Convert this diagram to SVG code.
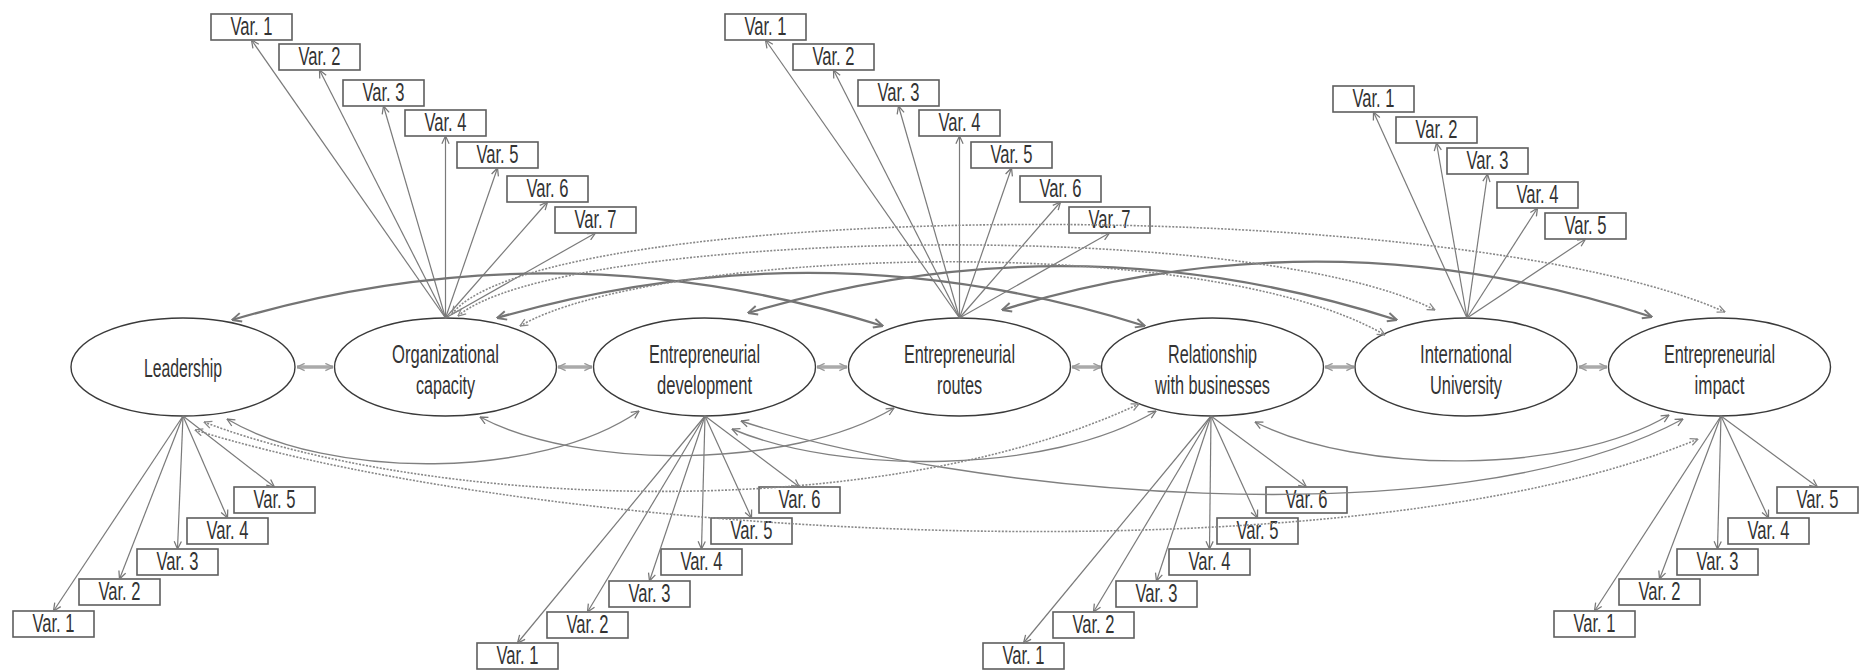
<svg xmlns="http://www.w3.org/2000/svg" width="1863" height="671" viewBox="0 0 1863 671">
<defs>
<style>
.bg{fill:#fff}
.n ellipse{fill:#fff;stroke:#3a3a3a;stroke-width:1.4}
.t{font-family:"Liberation Sans",Arial,sans-serif;font-size:26px;fill:#333;text-anchor:middle}
.vt{font-family:"Liberation Sans",Arial,sans-serif;font-size:25px;fill:#333;text-anchor:middle}
.v rect{fill:#fff;stroke:#5e5e5e;stroke-width:1.6}
.va{stroke:#7a7a7a;stroke-width:1.2;fill:none;marker-end:url(#ah)}
.adj{stroke:#aaa;stroke-width:3.5;fill:none;marker-start:url(#aa);marker-end:url(#aa)}
.sc{stroke:#747474;stroke-width:2.3;fill:none;marker-start:url(#ac);marker-end:url(#ac)}
.bc{stroke:#808080;stroke-width:1.4;fill:none;marker-start:url(#ah);marker-end:url(#ah)}
.dc{stroke:#888;stroke-width:1.6;fill:none;stroke-dasharray:2 1.5;marker-start:url(#ad);marker-end:url(#ad)}
</style>
<marker id="ah" viewBox="0 0 10 10" refX="9.5" refY="5" markerWidth="9" markerHeight="9" markerUnits="userSpaceOnUse" orient="auto-start-reverse"><path d="M1,1 L9.5,5 L1,9" fill="none" stroke="#777" stroke-width="1.4"/></marker>
<marker id="ac" viewBox="0 0 10 10" refX="9.5" refY="5" markerWidth="11" markerHeight="11" markerUnits="userSpaceOnUse" orient="auto-start-reverse"><path d="M1,1 L9.5,5 L1,9" fill="none" stroke="#777" stroke-width="1.8"/></marker>
<marker id="aa" viewBox="0 0 10 10" refX="9.5" refY="5" markerWidth="9" markerHeight="9" markerUnits="userSpaceOnUse" orient="auto-start-reverse"><path d="M1,1 L9.5,5 L1,9" fill="none" stroke="#999" stroke-width="1.5"/></marker>
<marker id="ad" viewBox="0 0 10 10" refX="9.5" refY="5" markerWidth="9" markerHeight="9" markerUnits="userSpaceOnUse" orient="auto-start-reverse"><path d="M1,1 L9.5,5 L1,9" fill="none" stroke="#888" stroke-width="1.4"/></marker>
</defs>
<rect class="bg" x="0" y="0" width="1863" height="671"/>

<g id="nodes">
<g id="n-leadership" class="n"><ellipse cx="183" cy="367" rx="112" ry="49"/><text class="t" x="183" y="377" textLength="78" lengthAdjust="spacingAndGlyphs">Leadership</text></g>
<g id="n-orgcap" class="n"><ellipse cx="445.5" cy="367" rx="111" ry="49"/><text class="t" x="445.5" y="363" textLength="107" lengthAdjust="spacingAndGlyphs">Organizational</text><text class="t" x="445.5" y="394" textLength="59" lengthAdjust="spacingAndGlyphs">capacity</text></g>
<g id="n-entdev" class="n"><ellipse cx="704.5" cy="367" rx="111" ry="49"/><text class="t" x="704.5" y="363" textLength="111" lengthAdjust="spacingAndGlyphs">Entrepreneurial</text><text class="t" x="704.5" y="394" textLength="95" lengthAdjust="spacingAndGlyphs">development</text></g>
<g id="n-routes" class="n"><ellipse cx="959.5" cy="367" rx="111" ry="49"/><text class="t" x="959.5" y="363" textLength="111" lengthAdjust="spacingAndGlyphs">Entrepreneurial</text><text class="t" x="959.5" y="394" textLength="45" lengthAdjust="spacingAndGlyphs">routes</text></g>
<g id="n-business" class="n"><ellipse cx="1212.5" cy="367" rx="111" ry="49"/><text class="t" x="1212.5" y="363" textLength="89" lengthAdjust="spacingAndGlyphs">Relationship</text><text class="t" x="1212.5" y="394" textLength="115" lengthAdjust="spacingAndGlyphs">with businesses</text></g>
<g id="n-intuniv" class="n"><ellipse cx="1466" cy="367" rx="111" ry="49"/><text class="t" x="1466" y="363" textLength="92" lengthAdjust="spacingAndGlyphs">International</text><text class="t" x="1466" y="394" textLength="72" lengthAdjust="spacingAndGlyphs">University</text></g>
<g id="n-impact" class="n"><ellipse cx="1719.5" cy="367" rx="111" ry="49"/><text class="t" x="1719.5" y="363" textLength="111" lengthAdjust="spacingAndGlyphs">Entrepreneurial</text><text class="t" x="1719.5" y="394" textLength="50" lengthAdjust="spacingAndGlyphs">impact</text></g>
</g>

<g id="vars">
<g id="oc-v1" class="v"><rect x="211" y="14" width="81" height="26"/><text class="vt" x="251.5" y="35" textLength="42" lengthAdjust="spacingAndGlyphs">Var. 1</text></g>
<g id="oc-v2" class="v"><rect x="279" y="44" width="81" height="26"/><text class="vt" x="319.5" y="65" textLength="42" lengthAdjust="spacingAndGlyphs">Var. 2</text></g>
<g id="oc-v3" class="v"><rect x="343" y="80" width="81" height="26"/><text class="vt" x="383.5" y="101" textLength="42" lengthAdjust="spacingAndGlyphs">Var. 3</text></g>
<g id="oc-v4" class="v"><rect x="405" y="110" width="81" height="26"/><text class="vt" x="445.5" y="131" textLength="42" lengthAdjust="spacingAndGlyphs">Var. 4</text></g>
<g id="oc-v5" class="v"><rect x="457" y="142" width="81" height="26"/><text class="vt" x="497.5" y="163" textLength="42" lengthAdjust="spacingAndGlyphs">Var. 5</text></g>
<g id="oc-v6" class="v"><rect x="507" y="176" width="81" height="26"/><text class="vt" x="547.5" y="197" textLength="42" lengthAdjust="spacingAndGlyphs">Var. 6</text></g>
<g id="oc-v7" class="v"><rect x="555" y="207" width="81" height="26"/><text class="vt" x="595.5" y="228" textLength="42" lengthAdjust="spacingAndGlyphs">Var. 7</text></g>
<g id="er-v1" class="v"><rect x="725" y="14" width="81" height="26"/><text class="vt" x="765.5" y="35" textLength="42" lengthAdjust="spacingAndGlyphs">Var. 1</text></g>
<g id="er-v2" class="v"><rect x="793" y="44" width="81" height="26"/><text class="vt" x="833.5" y="65" textLength="42" lengthAdjust="spacingAndGlyphs">Var. 2</text></g>
<g id="er-v3" class="v"><rect x="858" y="80" width="81" height="26"/><text class="vt" x="898.5" y="101" textLength="42" lengthAdjust="spacingAndGlyphs">Var. 3</text></g>
<g id="er-v4" class="v"><rect x="919" y="110" width="81" height="26"/><text class="vt" x="959.5" y="131" textLength="42" lengthAdjust="spacingAndGlyphs">Var. 4</text></g>
<g id="er-v5" class="v"><rect x="971" y="142" width="81" height="26"/><text class="vt" x="1011.5" y="163" textLength="42" lengthAdjust="spacingAndGlyphs">Var. 5</text></g>
<g id="er-v6" class="v"><rect x="1020" y="176" width="81" height="26"/><text class="vt" x="1060.5" y="197" textLength="42" lengthAdjust="spacingAndGlyphs">Var. 6</text></g>
<g id="er-v7" class="v"><rect x="1069" y="207" width="81" height="26"/><text class="vt" x="1109.5" y="228" textLength="42" lengthAdjust="spacingAndGlyphs">Var. 7</text></g>
<g id="iu-v1" class="v"><rect x="1333" y="86" width="81" height="26"/><text class="vt" x="1373.5" y="107" textLength="42" lengthAdjust="spacingAndGlyphs">Var. 1</text></g>
<g id="iu-v2" class="v"><rect x="1396" y="117" width="81" height="26"/><text class="vt" x="1436.5" y="138" textLength="42" lengthAdjust="spacingAndGlyphs">Var. 2</text></g>
<g id="iu-v3" class="v"><rect x="1447" y="148" width="81" height="26"/><text class="vt" x="1487.5" y="169" textLength="42" lengthAdjust="spacingAndGlyphs">Var. 3</text></g>
<g id="iu-v4" class="v"><rect x="1497" y="182" width="81" height="26"/><text class="vt" x="1537.5" y="203" textLength="42" lengthAdjust="spacingAndGlyphs">Var. 4</text></g>
<g id="iu-v5" class="v"><rect x="1545" y="213" width="81" height="26"/><text class="vt" x="1585.5" y="234" textLength="42" lengthAdjust="spacingAndGlyphs">Var. 5</text></g>
<g id="ld-v1" class="v"><rect x="13" y="611" width="81" height="26"/><text class="vt" x="53.5" y="632" textLength="42" lengthAdjust="spacingAndGlyphs">Var. 1</text></g>
<g id="ld-v2" class="v"><rect x="79" y="579" width="81" height="26"/><text class="vt" x="119.5" y="600" textLength="42" lengthAdjust="spacingAndGlyphs">Var. 2</text></g>
<g id="ld-v3" class="v"><rect x="137" y="549" width="81" height="26"/><text class="vt" x="177.5" y="570" textLength="42" lengthAdjust="spacingAndGlyphs">Var. 3</text></g>
<g id="ld-v4" class="v"><rect x="187" y="518" width="81" height="26"/><text class="vt" x="227.5" y="539" textLength="42" lengthAdjust="spacingAndGlyphs">Var. 4</text></g>
<g id="ld-v5" class="v"><rect x="234" y="487" width="81" height="26"/><text class="vt" x="274.5" y="508" textLength="42" lengthAdjust="spacingAndGlyphs">Var. 5</text></g>
<g id="ed-v1" class="v"><rect x="477" y="643" width="81" height="26"/><text class="vt" x="517.5" y="664" textLength="42" lengthAdjust="spacingAndGlyphs">Var. 1</text></g>
<g id="ed-v2" class="v"><rect x="547" y="612" width="81" height="26"/><text class="vt" x="587.5" y="633" textLength="42" lengthAdjust="spacingAndGlyphs">Var. 2</text></g>
<g id="ed-v3" class="v"><rect x="609" y="581" width="81" height="26"/><text class="vt" x="649.5" y="602" textLength="42" lengthAdjust="spacingAndGlyphs">Var. 3</text></g>
<g id="ed-v4" class="v"><rect x="661" y="549" width="81" height="26"/><text class="vt" x="701.5" y="570" textLength="42" lengthAdjust="spacingAndGlyphs">Var. 4</text></g>
<g id="ed-v5" class="v"><rect x="711" y="518" width="81" height="26"/><text class="vt" x="751.5" y="539" textLength="42" lengthAdjust="spacingAndGlyphs">Var. 5</text></g>
<g id="ed-v6" class="v"><rect x="759" y="487" width="81" height="26"/><text class="vt" x="799.5" y="508" textLength="42" lengthAdjust="spacingAndGlyphs">Var. 6</text></g>
<g id="rb-v1" class="v"><rect x="983" y="643" width="81" height="26"/><text class="vt" x="1023.5" y="664" textLength="42" lengthAdjust="spacingAndGlyphs">Var. 1</text></g>
<g id="rb-v2" class="v"><rect x="1053" y="612" width="81" height="26"/><text class="vt" x="1093.5" y="633" textLength="42" lengthAdjust="spacingAndGlyphs">Var. 2</text></g>
<g id="rb-v3" class="v"><rect x="1116" y="581" width="81" height="26"/><text class="vt" x="1156.5" y="602" textLength="42" lengthAdjust="spacingAndGlyphs">Var. 3</text></g>
<g id="rb-v4" class="v"><rect x="1169" y="549" width="81" height="26"/><text class="vt" x="1209.5" y="570" textLength="42" lengthAdjust="spacingAndGlyphs">Var. 4</text></g>
<g id="rb-v5" class="v"><rect x="1217" y="518" width="81" height="26"/><text class="vt" x="1257.5" y="539" textLength="42" lengthAdjust="spacingAndGlyphs">Var. 5</text></g>
<g id="rb-v6" class="v"><rect x="1266" y="487" width="81" height="26"/><text class="vt" x="1306.5" y="508" textLength="42" lengthAdjust="spacingAndGlyphs">Var. 6</text></g>
<g id="ei-v1" class="v"><rect x="1554" y="611" width="81" height="26"/><text class="vt" x="1594.5" y="632" textLength="42" lengthAdjust="spacingAndGlyphs">Var. 1</text></g>
<g id="ei-v2" class="v"><rect x="1619" y="579" width="81" height="26"/><text class="vt" x="1659.5" y="600" textLength="42" lengthAdjust="spacingAndGlyphs">Var. 2</text></g>
<g id="ei-v3" class="v"><rect x="1677" y="549" width="81" height="26"/><text class="vt" x="1717.5" y="570" textLength="42" lengthAdjust="spacingAndGlyphs">Var. 3</text></g>
<g id="ei-v4" class="v"><rect x="1728" y="518" width="81" height="26"/><text class="vt" x="1768.5" y="539" textLength="42" lengthAdjust="spacingAndGlyphs">Var. 4</text></g>
<g id="ei-v5" class="v"><rect x="1777" y="487" width="81" height="26"/><text class="vt" x="1817.5" y="508" textLength="42" lengthAdjust="spacingAndGlyphs">Var. 5</text></g>
</g>

<g id="connectors">
<g id="ind">
<line class="va" x1="445.5" y1="318" x2="251.5" y2="40"/>
<line class="va" x1="445.5" y1="318" x2="319.5" y2="70"/>
<line class="va" x1="445.5" y1="318" x2="383.5" y2="106"/>
<line class="va" x1="445.5" y1="318" x2="445.5" y2="136"/>
<line class="va" x1="445.5" y1="318" x2="497.5" y2="168"/>
<line class="va" x1="445.5" y1="318" x2="547.5" y2="202"/>
<line class="va" x1="445.5" y1="318" x2="595.5" y2="233"/>
<line class="va" x1="959.5" y1="318" x2="765.5" y2="40"/>
<line class="va" x1="959.5" y1="318" x2="833.5" y2="70"/>
<line class="va" x1="959.5" y1="318" x2="898.5" y2="106"/>
<line class="va" x1="959.5" y1="318" x2="959.5" y2="136"/>
<line class="va" x1="959.5" y1="318" x2="1011.5" y2="168"/>
<line class="va" x1="959.5" y1="318" x2="1060.5" y2="202"/>
<line class="va" x1="959.5" y1="318" x2="1109.5" y2="233"/>
<line class="va" x1="1467" y1="318" x2="1373.5" y2="112"/>
<line class="va" x1="1467" y1="318" x2="1436.5" y2="143"/>
<line class="va" x1="1467" y1="318" x2="1487.5" y2="174"/>
<line class="va" x1="1467" y1="318" x2="1537.5" y2="208"/>
<line class="va" x1="1467" y1="318" x2="1585.5" y2="239"/>
<line class="va" x1="183" y1="416" x2="53.5" y2="611"/>
<line class="va" x1="183" y1="416" x2="119.5" y2="579"/>
<line class="va" x1="183" y1="416" x2="177.5" y2="549"/>
<line class="va" x1="183" y1="416" x2="227.5" y2="518"/>
<line class="va" x1="183" y1="416" x2="274.5" y2="487"/>
<line class="va" x1="705" y1="416" x2="517.5" y2="643"/>
<line class="va" x1="705" y1="416" x2="587.5" y2="612"/>
<line class="va" x1="705" y1="416" x2="649.5" y2="581"/>
<line class="va" x1="705" y1="416" x2="701.5" y2="549"/>
<line class="va" x1="705" y1="416" x2="751.5" y2="518"/>
<line class="va" x1="705" y1="416" x2="799.5" y2="487"/>
<line class="va" x1="1211" y1="416" x2="1023.5" y2="643"/>
<line class="va" x1="1211" y1="416" x2="1093.5" y2="612"/>
<line class="va" x1="1211" y1="416" x2="1156.5" y2="581"/>
<line class="va" x1="1211" y1="416" x2="1209.5" y2="549"/>
<line class="va" x1="1211" y1="416" x2="1257.5" y2="518"/>
<line class="va" x1="1211" y1="416" x2="1306.5" y2="487"/>
<line class="va" x1="1721" y1="416" x2="1594.5" y2="611"/>
<line class="va" x1="1721" y1="416" x2="1659.5" y2="579"/>
<line class="va" x1="1721" y1="416" x2="1717.5" y2="549"/>
<line class="va" x1="1721" y1="416" x2="1768.5" y2="518"/>
<line class="va" x1="1721" y1="416" x2="1817.5" y2="487"/>
</g>
<g id="adjacent">
<line class="adj" x1="297" y1="367" x2="333" y2="367"/>
<line class="adj" x1="558" y1="367" x2="592" y2="367"/>
<line class="adj" x1="817" y1="367" x2="847" y2="367"/>
<line class="adj" x1="1072" y1="367" x2="1101" y2="367"/>
<line class="adj" x1="1325" y1="367" x2="1354" y2="367"/>
<line class="adj" x1="1579" y1="367" x2="1607" y2="367"/>
</g>
<g id="upper">
<path class="sc" d="M232,320 Q557,224 883,326"/>
<path class="sc" d="M497,318 Q821,224 1145,326"/>
<path class="sc" d="M748,313 Q1072,216 1397,320"/>
<path class="sc" d="M1002,310 Q1327,210 1652,317"/>
<path class="dc" d="M452,314 C540,200 1450,190 1725,312"/>
<path class="dc" d="M458,316 C560,230 1250,215 1435,310"/>
<path class="dc" d="M520,326 C650,250 1200,228 1385,335"/>
</g>
<g id="lower">
<path class="bc" d="M227,419 C330,480 540,480 639,411"/>
<path class="bc" d="M480,417 C580,470 790,470 894,408"/>
<path class="bc" d="M732,429 C840,475 1050,475 1156,411"/>
<path class="bc" d="M1255,422 C1360,475 1570,475 1669,415"/>
<path class="bc" d="M741,421 C950,490 1450,545 1683,419"/>
<path class="dc" d="M204,422 C420,505 870,530 1139,404"/>
<path class="dc" d="M195,430 C550,540 1350,585 1698,439"/>
</g>
</g>
</svg>
